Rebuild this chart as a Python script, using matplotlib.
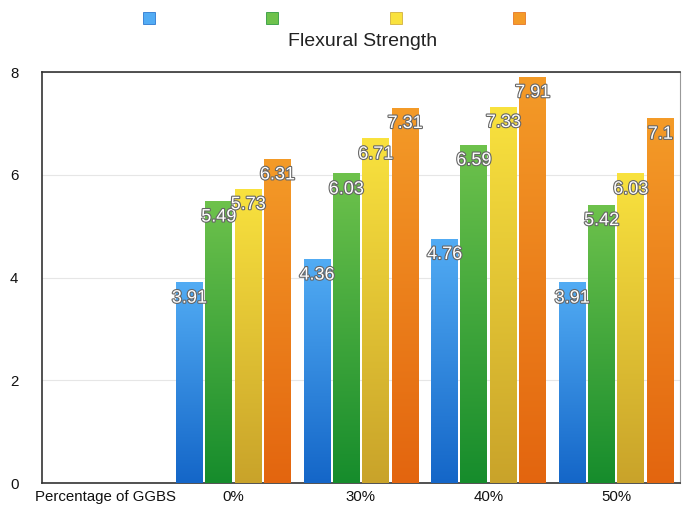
import numpy as np
import matplotlib.pyplot as plt
import matplotlib.patheffects as pe
from matplotlib.colors import LinearSegmentedColormap
from matplotlib.lines import Line2D

plt.rcParams['font.family'] = ['Liberation Sans', 'DejaVu Sans']

categories = ["Percentage of GGBS", "0%", "30%", "40%", "50%"]
# flexural strength for each mix, one list per series (no data for the first slot)
series_a = [None, 3.91, 4.36, 4.76, 3.91]
series_b = [None, 5.49, 6.03, 6.59, 5.42]
series_c = [None, 5.73, 6.71, 7.33, 6.03]
series_d = [None, 6.31, 7.31, 7.91, 7.1]
series = [series_a, series_b, series_c, series_d]

# (top colour, bottom colour) of each bar gradient
shades = [("#52acf4", "#1466c8"),
          ("#6ec24c", "#168c2c"),
          ("#f9e23e", "#c9a32a"),
          ("#f49b28", "#e3650f")]

fig = plt.figure(figsize=(6.83, 5.08), dpi=100)
ax = fig.add_axes([0.0615, 0.049, 0.934, 0.809])

width = 0.21
step = 0.23
x = np.arange(len(categories))

for i, (vals, (top, bottom)) in enumerate(zip(series, shades)):
    cmap = LinearSegmentedColormap.from_list("g%d" % i, [bottom, top])
    grad = np.linspace(0, 1, 256).reshape(-1, 1)
    for xi, v in zip(x, vals):
        if v is None:
            continue
        xc = xi + (i - 1.5) * step
        bar = ax.bar(xc, v, width=width, color=top, edgecolor="none", zorder=2)[0]
        im = ax.imshow(grad, cmap=cmap, origin="lower", aspect="auto",
                       extent=(xc - width / 2, xc + width / 2, 0, v), zorder=3)
        im.set_clip_path(bar)
        ax.text(xc, v - 0.31, "%g" % v, ha="center", va="center", fontsize=13,
                color="white", zorder=5,
                path_effects=[pe.withStroke(linewidth=1.6, foreground="#666666")])

ax.set_xlim(-0.5, len(categories) - 0.5)
ax.set_ylim(0, 8)
ax.set_yticks([0, 2, 4, 6, 8])
ax.set_xticks(x)
ax.set_xticklabels(categories)
ax.tick_params(axis="both", length=0, labelsize=10.8, colors="#111111")
ax.tick_params(axis="y", pad=17)
ax.tick_params(axis="x", pad=5)
ax.grid(axis="y", color="#e6e6e6", linewidth=0.8, zorder=0)
ax.set_axisbelow(True)
for side in ["left", "bottom", "top"]:
    ax.spines[side].set_color("#333333")
    ax.spines[side].set_linewidth(1.2)
ax.spines["right"].set_color("#999999")
ax.spines["right"].set_linewidth(0.8)

handles = [Line2D([], [], marker="s", linestyle="none", markersize=8.5,
                  markerfacecolor=s[0], markeredgecolor=s[1], markeredgewidth=0.5)
           for s in shades]
fig.legend(handles, ["", "", "", ""], ncol=4, loc="center",
           bbox_to_anchor=(334 / 683, 1 - 19 / 508), frameon=False,
           fontsize=10, handlelength=1, handletextpad=0, columnspacing=7.9)

fig.text(363 / 683, 1 - 42 / 508, "Flexural Strength", ha="center", va="center",
         fontsize=14, color="#222222")

plt.savefig("out.png", dpi=100)
